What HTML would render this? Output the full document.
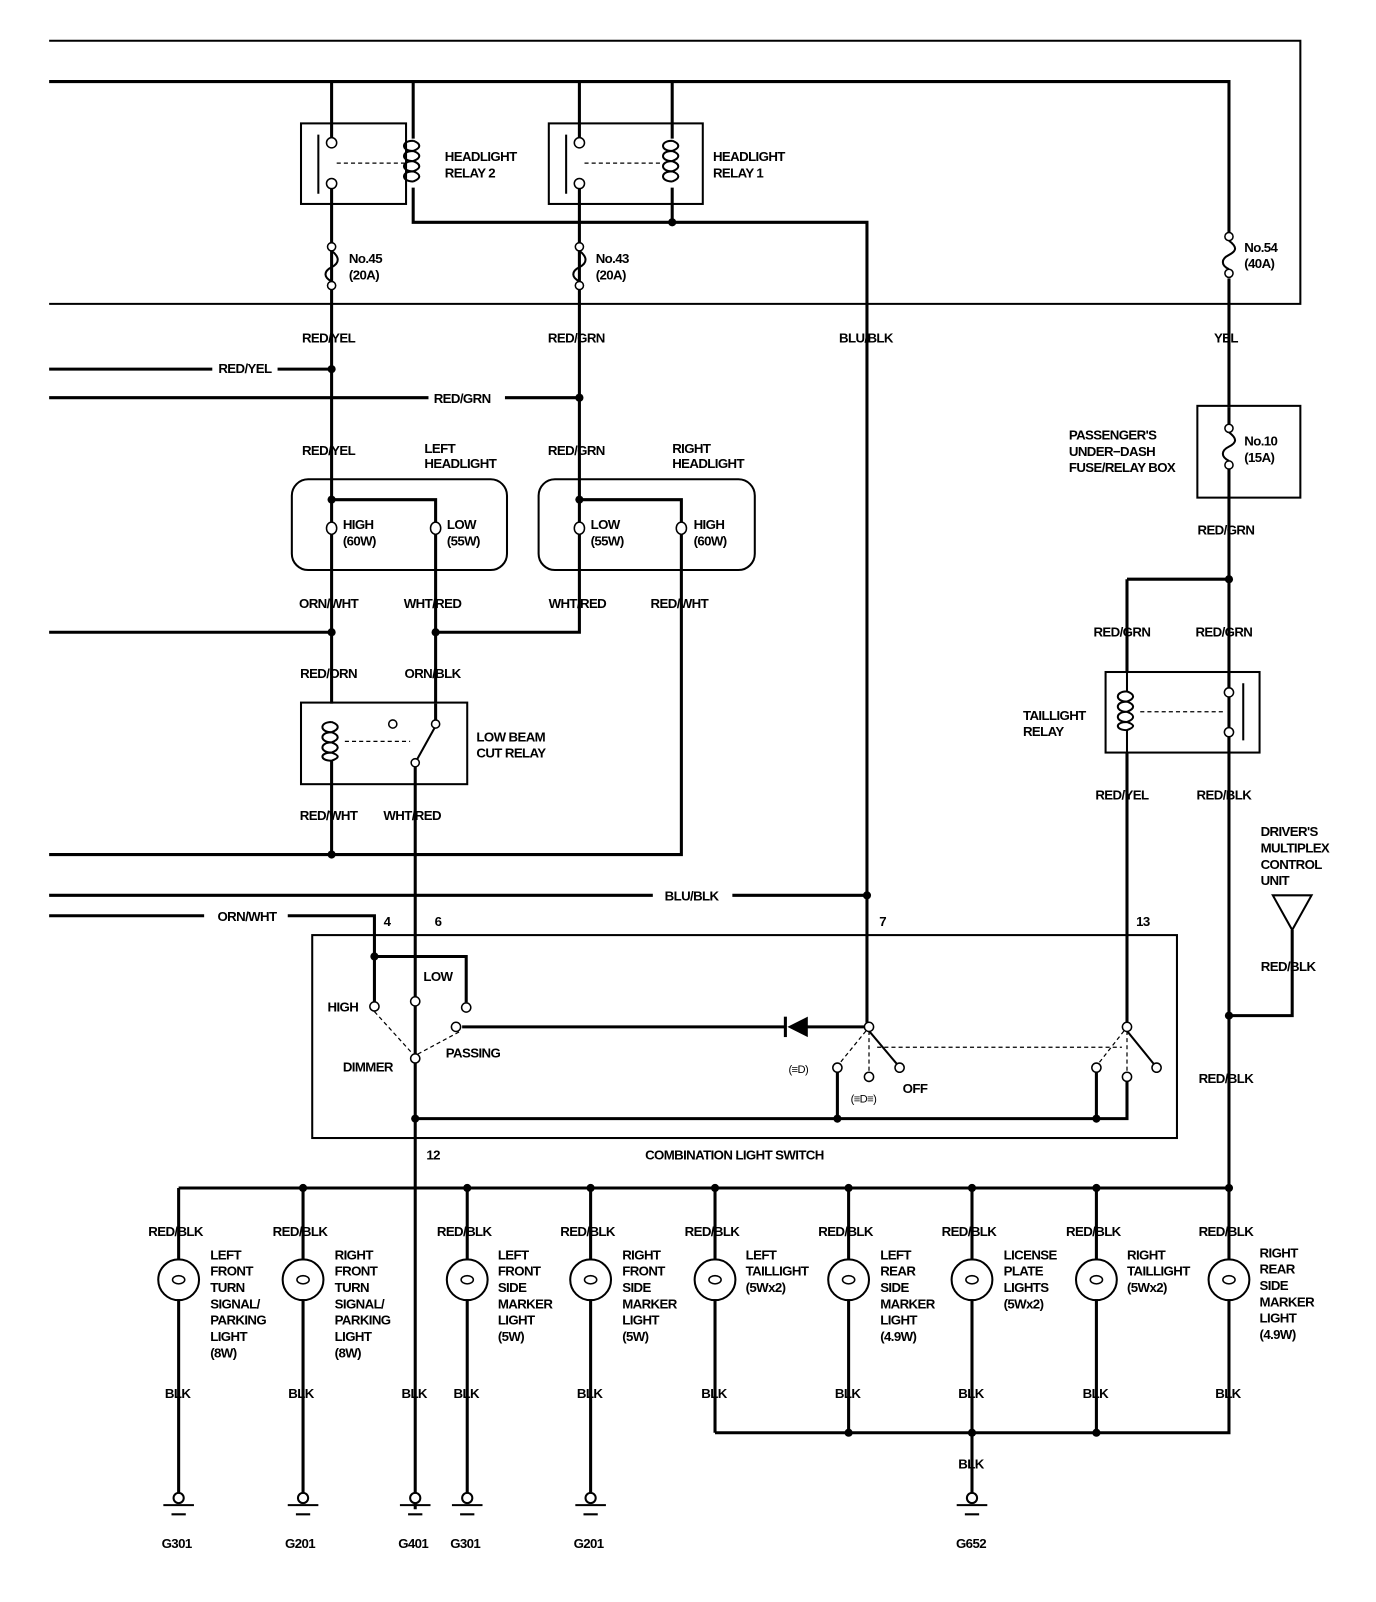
<!DOCTYPE html>
<html><head><meta charset="utf-8"><style>
html,body{margin:0;padding:0;background:#fff}
svg{display:block}
text{font-family:"Liberation Sans",sans-serif;font-weight:bold;font-size:13px;fill:#000;letter-spacing:-0.6px}
.w{stroke:#000;stroke-width:3;fill:none}
.t{stroke:#000;stroke-width:2;fill:none}
.d{stroke:#000;stroke-width:1.2;fill:none;stroke-dasharray:4,3}
.c{stroke:#000;stroke-width:1.5;fill:#fff}
.m text{text-anchor:middle}
</style></head><body>
<svg width="1376" height="1602" viewBox="0 0 1349 1571" xmlns="http://www.w3.org/2000/svg">
<!-- fuse box outline -->
<path class="t" d="M48 40 H1275 V298 H48"/>
<path class="w" d="M48 80 H1205 V400"/>
<!-- relay 2 -->
<rect class="t" x="295" y="121" width="103" height="79"/>
<rect class="t" x="538" y="121" width="151" height="79"/>
<path class="w" d="M325 80 V136 M405 80 V136 M325 184 V490 M405 184 V218 H850 V1003 M568 80 V136 M659 80 V136 M568 184 V490 M659 184 V218"/>
<g class="c"><circle cx="325" cy="140" r="5"/><circle cx="325" cy="180" r="5"/><circle cx="568" cy="140" r="5"/><circle cx="568" cy="180" r="5"/></g>
<path class="t" d="M312 132 V190 M555 132 V190"/>
<path class="t" d="M405 138 c-12 0 -12 10 0 10 c-12 0 -12 10 0 10 c-12 0 -12 10 0 10 c-12 0 -12 10 0 10 M405 138 c8 3 8 7 0 10 c8 3 8 7 0 10 c8 3 8 7 0 10 c8 3 8 7 0 10"/>
<path class="t" d="M659 138 c-12 0 -12 10 0 10 c-12 0 -12 10 0 10 c-12 0 -12 10 0 10 c-12 0 -12 10 0 10 M659 138 c8 3 8 7 0 10 c8 3 8 7 0 10 c8 3 8 7 0 10 c8 3 8 7 0 10"/>
<path class="d" d="M330 160 H398 M573 160 H650"/>
<circle cx="659" cy="218" r="4"/>
<!-- fuses -->
<g class="c"><circle cx="325" cy="242" r="4"/><circle cx="325" cy="280" r="4"/><circle cx="568" cy="242" r="4"/><circle cx="568" cy="280" r="4"/><circle cx="1205" cy="232" r="4"/><circle cx="1205" cy="268" r="4"/><circle cx="1205" cy="420" r="4"/><circle cx="1205" cy="456" r="4"/></g>
<path class="t" d="M325 246 c8 6 8 12 0 16 c-8 4 -8 10 0 14 M568 246 c8 6 8 12 0 16 c-8 4 -8 10 0 14 M1205 236 c8 6 8 10 0 14 c-8 4 -8 10 0 14 M1205 424 c8 6 8 10 0 14 c-8 4 -8 10 0 14"/>
<rect x="1195" y="228" width="20" height="45" fill="#fff"/>
<path class="t" d="M1205 236 c8 6 8 10 0 14 c-8 4 -8 10 0 14"/>
<g class="c"><circle cx="1205" cy="232" r="4"/><circle cx="1205" cy="268" r="4"/></g>
<text x="342" y="258">No.45</text><text x="342" y="274">(20A)</text>
<text x="584" y="258">No.43</text><text x="584" y="274">(20A)</text>
<text x="1220" y="247">No.54</text><text x="1220" y="263">(40A)</text>
<g class="m"><text x="322" y="336">RED/YEL</text><text x="565" y="336">RED/GRN</text><text x="849" y="336">BLU/BLK</text><text x="1202" y="336">YEL</text></g>
<path class="w" d="M48 362 H208 M272 362 H325 M48 390 H420 M495 390 H568"/>
<circle cx="325" cy="362" r="4"/><circle cx="568" cy="390" r="4"/>
<g class="m"><text x="240" y="366">RED/YEL</text><text x="453" y="395">RED/GRN</text><text x="322" y="446">RED/YEL</text><text x="565" y="446">RED/GRN</text></g>
<text x="416" y="444">LEFT</text><text x="416" y="459">HEADLIGHT</text>
<text x="659" y="444">RIGHT</text><text x="659" y="459">HEADLIGHT</text>
<!-- headlights -->
<rect class="t" x="286" y="470" width="211" height="89" rx="16"/>
<rect class="t" x="528" y="470" width="212" height="89" rx="16"/>
<path class="w" d="M325 490 H427 V512 M325 490 V512 M568 490 H668 V512 M568 490 V512 M325 524 V690 M427 524 V690 M427 620 H568 V524 M668 524 V838 H48 M48 620 H325"/>
<circle cx="325" cy="490" r="4"/><circle cx="568" cy="490" r="4"/><circle cx="325" cy="620" r="4"/><circle cx="427" cy="620" r="4"/><circle cx="325" cy="838" r="4"/>
<g class="c"><ellipse cx="325" cy="518" rx="5" ry="6"/><ellipse cx="427" cy="518" rx="5" ry="6"/><ellipse cx="568" cy="518" rx="5" ry="6"/><ellipse cx="668" cy="518" rx="5" ry="6"/></g>
<text x="336" y="519">HIGH</text><text x="336" y="535">(60W)</text>
<text x="438" y="519">LOW</text><text x="438" y="535">(55W)</text>
<text x="579" y="519">LOW</text><text x="579" y="535">(55W)</text>
<text x="680" y="519">HIGH</text><text x="680" y="535">(60W)</text>
<g class="m"><text x="322" y="596">ORN/WHT</text><text x="424" y="596">WHT/RED</text><text x="566" y="596">WHT/RED</text><text x="666" y="596">RED/WHT</text>
<text x="322" y="665">RED/ORN</text><text x="424" y="665">ORN/BLK</text><text x="322" y="804">RED/WHT</text><text x="404" y="804">WHT/RED</text></g>
<!-- low beam cut relay -->
<rect class="t" x="295" y="689" width="163" height="80"/>
<path class="t" d="M325 708 c-12 0 -12 10 0 10 c-12 0 -12 10 0 10 c-12 0 -12 10 0 10 c-12 0 -12 8 0 8 M325 708 c8 3 8 7 0 10 c8 3 8 7 0 10 c8 3 8 7 0 10 c8 3 8 5 0 8"/>
<path class="w" d="M325 746 V838 M427 690 V706 M407 752 V1480"/>
<path class="t" d="M407 748 L427 712"/>
<g class="c"><circle cx="385" cy="710" r="4"/><circle cx="427" cy="710" r="4"/><circle cx="407" cy="748" r="4"/></g>
<path class="d" d="M338 727 H402"/>
<text x="467" y="727">LOW BEAM</text><text x="467" y="743">CUT RELAY</text>
<path class="w" d="M48 878 H640 M718 878 H850 M48 898 H200 M282 898 H367 V983"/>
<circle cx="850" cy="878" r="4"/>
<text x="678" y="883" text-anchor="middle">BLU/BLK</text><text x="242" y="903" text-anchor="middle">ORN/WHT</text>
<text x="376" y="908">4</text><text x="426" y="908">6</text><text x="862" y="908">7</text><text x="1114" y="908">13</text>
<!-- combination switch -->
<rect class="t" x="306" y="917" width="848" height="199"/>
<circle cx="367" cy="938" r="4"/>
<path class="w" d="M367 938 H457 V983 M453 1007 H770 M790 1007 H848 M821 1051 V1097 M1075 1051 V1097 M1105 1060 V1097 H407 M1105 738 V1003"/>
<path d="M772 1007 L792 997 V1017 Z"/><path class="w" d="M770 997 V1017"/>
<path class="t" d="M852 1011 L879 1043 M1105 1011 L1131 1043"/>
<path class="d" d="M367 992 L405 1034 M450 1012 L409 1034 M849 1011 L823 1043 M852 1011 V1052 M860 1027 H1100 M1102 1011 L1077 1043 M1105 1011 V1052"/>
<g class="c"><circle cx="367" cy="987" r="4.5"/><circle cx="407" cy="982" r="4.5"/><circle cx="457" cy="988" r="4.5"/><circle cx="447" cy="1007" r="4.5"/><circle cx="407" cy="1038" r="4.5"/><circle cx="852" cy="1007" r="4.5"/><circle cx="821" cy="1047" r="4.5"/><circle cx="852" cy="1056" r="4.5"/><circle cx="882" cy="1047" r="4.5"/><circle cx="1105" cy="1007" r="4.5"/><circle cx="1075" cy="1047" r="4.5"/><circle cx="1105" cy="1056" r="4.5"/><circle cx="1134" cy="1047" r="4.5"/></g>
<circle cx="407" cy="1097" r="4"/><circle cx="821" cy="1097" r="4"/><circle cx="1075" cy="1097" r="4"/>
<text x="415" y="962">LOW</text><text x="321" y="992">HIGH</text><text x="437" y="1037">PASSING</text><text x="336" y="1051">DIMMER</text>
<text x="885" y="1072">OFF</text>
<text x="773" y="1052" style="font-weight:normal;font-size:11px">(≡D)</text>
<text x="834" y="1081" style="font-weight:normal;font-size:11px">(≡D≡)</text>
<text x="720" y="1137" text-anchor="middle">COMBINATION LIGHT SWITCH</text>
<text x="418" y="1137">12</text>
<!-- passenger fuse box and taillight relay -->
<rect class="t" x="1174" y="398" width="101" height="90"/>
<path class="w" d="M1205 400 V416 M1205 460 V1165 M1105 568 H1205 M1105 568 V660"/>
<text x="1220" y="437">No.10</text><text x="1220" y="453">(15A)</text>
<text x="1048" y="431">PASSENGER'S</text><text x="1048" y="447">UNDER−DASH</text><text x="1048" y="463">FUSE/RELAY BOX</text>
<g class="m"><text x="1202" y="524">RED/GRN</text><text x="1100" y="624">RED/GRN</text><text x="1200" y="624">RED/GRN</text><text x="1100" y="784">RED/YEL</text><text x="1200" y="784">RED/BLK</text><text x="1263" y="952">RED/BLK</text><text x="1202" y="1062">RED/BLK</text></g>
<circle cx="1205" cy="568" r="4"/>
<rect class="t" x="1084" y="659" width="151" height="79"/>
<path class="t" d="M1105 678 c-12 0 -12 10 0 10 c-12 0 -12 10 0 10 c-12 0 -12 10 0 10 c-12 0 -12 8 0 8 M1105 678 c8 3 8 7 0 10 c8 3 8 7 0 10 c8 3 8 7 0 10 c8 3 8 5 0 8 M1105 660 V678 M1105 716 V738 M1219 670 V726"/>
<path class="d" d="M1118 698 H1200"/>
<path class="w" d="M1205 660 V675 M1205 723 V738"/>
<g class="c"><circle cx="1205" cy="679" r="4.5"/><circle cx="1205" cy="718" r="4.5"/></g>
<text x="1003" y="706">TAILLIGHT</text><text x="1003" y="722">RELAY</text>
<text x="1236" y="820">DRIVER'S</text><text x="1236" y="836">MULTIPLEX</text><text x="1236" y="852">CONTROL</text><text x="1236" y="868">UNIT</text>
<path class="t" d="M1248 878 H1286 L1267 912 Z"/>
<path class="w" d="M1267 912 V996 H1205"/><circle cx="1205" cy="996" r="4"/>
<!-- bottom bus -->
<path class="w" d="M175 1165 H1205 M175 1165 V1236 M175 1274 V1470 M297 1165 V1236 M297 1274 V1470 M458 1165 V1236 M458 1274 V1470 M579 1165 V1236 M579 1274 V1470 M701 1165 V1236 M701 1274 V1405 M832 1165 V1236 M832 1274 V1405 M953 1165 V1236 M953 1274 V1470 M1075 1165 V1236 M1075 1274 V1405 M1205 1165 V1236 M1205 1274 V1405 H701"/>
<g><circle cx="297" cy="1165" r="4"/><circle cx="458" cy="1165" r="4"/><circle cx="579" cy="1165" r="4"/><circle cx="701" cy="1165" r="4"/><circle cx="832" cy="1165" r="4"/><circle cx="953" cy="1165" r="4"/><circle cx="1075" cy="1165" r="4"/><circle cx="1205" cy="1165" r="4"/><circle cx="832" cy="1405" r="4"/><circle cx="953" cy="1405" r="4"/><circle cx="1075" cy="1405" r="4"/></g>
<g class="t">
<circle cx="175" cy="1255" r="20"/><circle cx="297" cy="1255" r="20"/><circle cx="458" cy="1255" r="20"/><circle cx="579" cy="1255" r="20"/><circle cx="701" cy="1255" r="20"/><circle cx="832" cy="1255" r="20"/><circle cx="953" cy="1255" r="20"/><circle cx="1075" cy="1255" r="20"/><circle cx="1205" cy="1255" r="20"/>
</g>
<g class="c" style="stroke-width:1.5">
<ellipse cx="175" cy="1255" rx="6" ry="4"/><ellipse cx="297" cy="1255" rx="6" ry="4"/><ellipse cx="458" cy="1255" rx="6" ry="4"/><ellipse cx="579" cy="1255" rx="6" ry="4"/><ellipse cx="701" cy="1255" rx="6" ry="4"/><ellipse cx="832" cy="1255" rx="6" ry="4"/><ellipse cx="953" cy="1255" rx="6" ry="4"/><ellipse cx="1075" cy="1255" rx="6" ry="4"/><ellipse cx="1205" cy="1255" rx="6" ry="4"/>
</g>
<g class="m">
<text x="172" y="1212">RED/BLK</text><text x="294" y="1212">RED/BLK</text><text x="455" y="1212">RED/BLK</text><text x="576" y="1212">RED/BLK</text><text x="698" y="1212">RED/BLK</text><text x="829" y="1212">RED/BLK</text><text x="950" y="1212">RED/BLK</text><text x="1072" y="1212">RED/BLK</text><text x="1202" y="1212">RED/BLK</text>
<text x="174" y="1371">BLK</text><text x="295" y="1371">BLK</text><text x="406" y="1371">BLK</text><text x="457" y="1371">BLK</text><text x="578" y="1371">BLK</text><text x="700" y="1371">BLK</text><text x="831" y="1371">BLK</text><text x="952" y="1371">BLK</text><text x="1074" y="1371">BLK</text><text x="1204" y="1371">BLK</text><text x="952" y="1440">BLK</text>
<text x="173" y="1518">G301</text><text x="294" y="1518">G201</text><text x="405" y="1518">G401</text><text x="456" y="1518">G301</text><text x="577" y="1518">G201</text><text x="952" y="1518">G652</text>
</g>
<!-- grounds -->
<g class="t">
<circle cx="175" cy="1469" r="5" fill="#fff"/><path d="M160 1476 H190 M168 1485 H182"/>
<circle cx="297" cy="1469" r="5" fill="#fff"/><path d="M282 1476 H312 M290 1485 H304"/>
<circle cx="407" cy="1469" r="5" fill="#fff"/><path d="M392 1476 H422 M400 1485 H414"/>
<circle cx="458" cy="1469" r="5" fill="#fff"/><path d="M443 1476 H473 M451 1485 H465"/>
<circle cx="579" cy="1469" r="5" fill="#fff"/><path d="M564 1476 H594 M572 1485 H586"/>
<circle cx="953" cy="1469" r="5" fill="#fff"/><path d="M938 1476 H968 M946 1485 H960"/>
</g>
<g>
<text x="206" y="1235">LEFT</text><text x="206" y="1251">FRONT</text><text x="206" y="1267">TURN</text><text x="206" y="1283">SIGNAL/</text><text x="206" y="1299">PARKING</text><text x="206" y="1315">LIGHT</text><text x="206" y="1331">(8W)</text>
<text x="328" y="1235">RIGHT</text><text x="328" y="1251">FRONT</text><text x="328" y="1267">TURN</text><text x="328" y="1283">SIGNAL/</text><text x="328" y="1299">PARKING</text><text x="328" y="1315">LIGHT</text><text x="328" y="1331">(8W)</text>
<text x="488" y="1235">LEFT</text><text x="488" y="1251">FRONT</text><text x="488" y="1267">SIDE</text><text x="488" y="1283">MARKER</text><text x="488" y="1299">LIGHT</text><text x="488" y="1315">(5W)</text>
<text x="610" y="1235">RIGHT</text><text x="610" y="1251">FRONT</text><text x="610" y="1267">SIDE</text><text x="610" y="1283">MARKER</text><text x="610" y="1299">LIGHT</text><text x="610" y="1315">(5W)</text>
<text x="731" y="1235">LEFT</text><text x="731" y="1251">TAILLIGHT</text><text x="731" y="1267">(5Wx2)</text>
<text x="863" y="1235">LEFT</text><text x="863" y="1251">REAR</text><text x="863" y="1267">SIDE</text><text x="863" y="1283">MARKER</text><text x="863" y="1299">LIGHT</text><text x="863" y="1315">(4.9W)</text>
<text x="984" y="1235">LICENSE</text><text x="984" y="1251">PLATE</text><text x="984" y="1267">LIGHTS</text><text x="984" y="1283">(5Wx2)</text>
<text x="1105" y="1235">RIGHT</text><text x="1105" y="1251">TAILLIGHT</text><text x="1105" y="1267">(5Wx2)</text>
<text x="1235" y="1233">RIGHT</text><text x="1235" y="1249">REAR</text><text x="1235" y="1265">SIDE</text><text x="1235" y="1281">MARKER</text><text x="1235" y="1297">LIGHT</text><text x="1235" y="1313">(4.9W)</text>
</g>
<text x="436" y="158">HEADLIGHT</text><text x="436" y="174">RELAY 2</text>
<text x="699" y="158">HEADLIGHT</text><text x="699" y="174">RELAY 1</text>
</svg>
</body></html>
